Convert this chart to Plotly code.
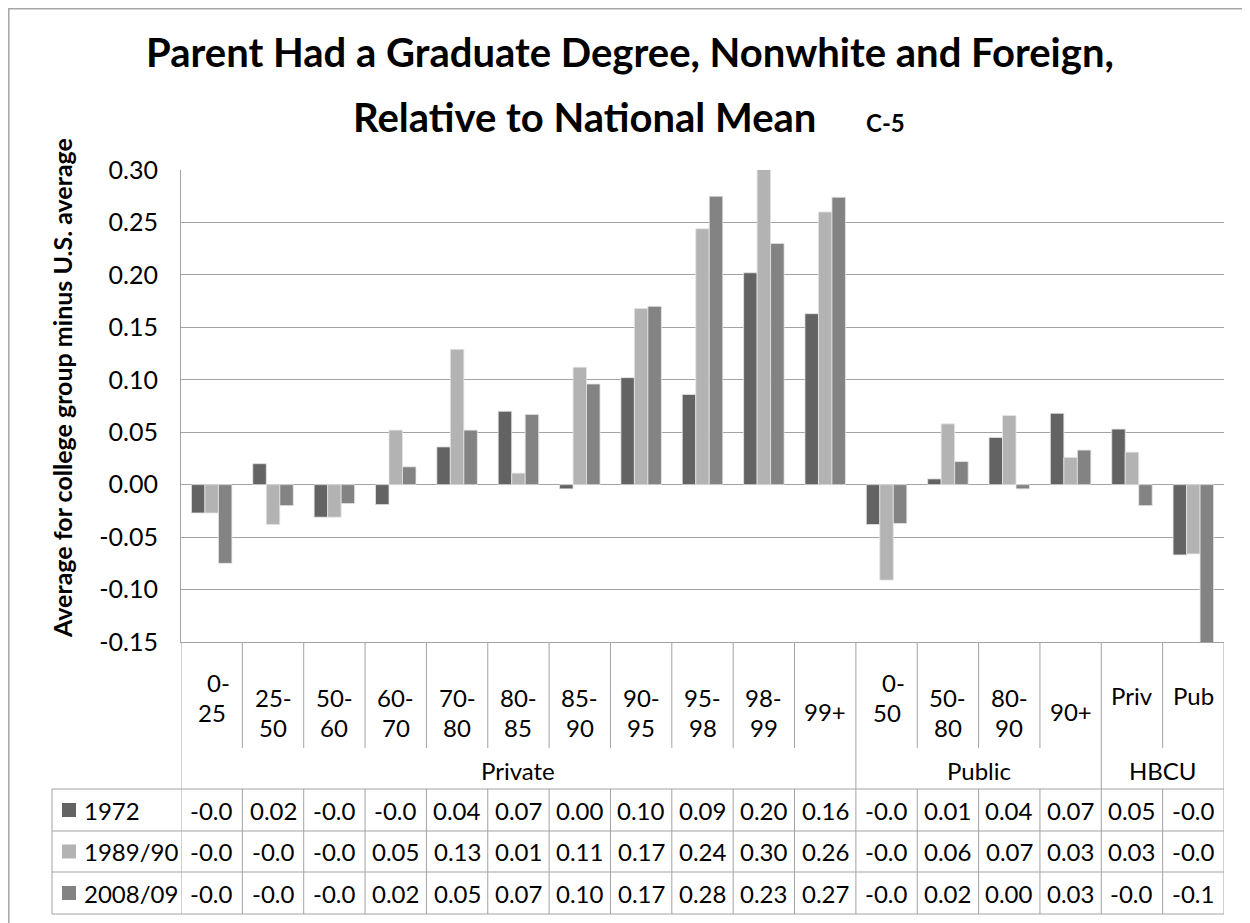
import plotly.graph_objects as go

# ---------------- data ----------------
categories = ["0-25", "25-50", "50-60", "60-70", "70-80", "80-85", "85-90", "90-95",
              "95-98", "98-99", "99+", "0-50", "50-80", "80-90", "90+", "Priv", "Pub"]
group_names = ["Private", "Public", "HBCU"]
group_sizes = [11, 4, 2]
series_names = ["1972", "1989/90", "2008/09"]
v1972 = [-0.027, 0.020, -0.031, -0.019, 0.036, 0.070, -0.004, 0.102, 0.086, 0.202, 0.163,
         -0.038, 0.0055, 0.045, 0.068, 0.053, -0.067]
v1989 = [-0.027, -0.038, -0.031, 0.052, 0.129, 0.011, 0.112, 0.168, 0.244, 0.301, 0.260,
         -0.091, 0.058, 0.066, 0.026, 0.031, -0.066]
v2008 = [-0.075, -0.020, -0.018, 0.017, 0.052, 0.067, 0.096, 0.170, 0.275, 0.230, 0.274,
         -0.037, 0.022, -0.004, 0.033, -0.020, -0.152]
y_ticks = [-0.15, -0.10, -0.05, 0.00, 0.05, 0.10, 0.15, 0.20, 0.25, 0.30]

title_line1 = "Parent Had a Graduate Degree, Nonwhite and Foreign,"
title_line2 = "Relative to National Mean"
title_code = "C-5"
y_title = "Average for college group minus U.S. average"

# ---------------- styles / geometry ----------------
colors = ["#636363", "#b3b3b3", "#838383"]
FONT = "Lato"
GRID = "#a3a3a3"
OFF = 8                      # page body margin
W, H = 1250 - OFF, 923 - OFF
# plot area in page pixels
L, R, T, B = 181, 1224, 170, 642


def px(xp):
    return (xp - L) / (R - L)


def py(yp):
    return (B - yp) / (B - T)


def fmt(v):
    s = f"{v:.2f}"
    if s == "-0.00":
        return "0.00"
    return s[:-1] if s.startswith("-") else s


series = [v1972, v1989, v2008]
fig = go.Figure()
for name, vals, col in zip(series_names, series, colors):
    fig.add_trace(go.Bar(x=categories, y=vals, name=name, marker_color=col,
                         marker_line=dict(color="#e4e4e4", width=0.8)))

shapes = []
annotations = []

# outer chart border
shapes.append(dict(type="rect", xref="paper", yref="paper", x0=px(OFF + 0.8),
                   x1=px(1262), y0=py(935), y1=py(OFF + 0.8),
                   line=dict(color="#a6a6a6", width=1.5), layer="below"))

# table geometry (page pixels)
header_bottom = 748
group_bottom = 789
row_lines = [789, 831, 872, 914]
table_left = 52

group_bounds = [0]
for s in group_sizes:
    group_bounds.append(group_bounds[-1] + s)

n = len(categories)
for k in range(n + 1):
    xk = k - 0.5
    if k in group_bounds:
        segs = [(B, row_lines[-1])]
    else:
        segs = [(B, header_bottom), (group_bottom, row_lines[-1])]
    for a, b in segs:
        shapes.append(dict(type="line", xref="x", yref="paper", x0=xk, x1=xk,
                           y0=py(a), y1=py(b), line=dict(color=GRID, width=1)))
shapes.append(dict(type="line", xref="paper", yref="paper", x0=px(table_left),
                   x1=px(table_left), y0=py(row_lines[0]), y1=py(row_lines[-1]),
                   line=dict(color=GRID, width=1)))
for yl in row_lines:
    shapes.append(dict(type="line", xref="paper", yref="paper", x0=px(table_left),
                       x1=1, y0=py(yl), y1=py(yl), line=dict(color=GRID, width=1)))

TXT = dict(family=FONT, size=24, color="#000000")


def note(x, y, text, font=TXT, xref="paper", **kw):
    d = dict(x=x, xref=xref, y=y, yref="paper", text=text, showarrow=False,
             font=font, xanchor="center", yanchor="middle")
    d.update(kw)
    annotations.append(d)


# category labels
for i, lab in enumerate(categories):
    if "-" in lab:
        a, b = lab.split("-")
        center = 697 if a == "0" else 712.5
        lines = [(a + "-", center - 15, 7 if a == "0" else 0), (b, center + 15, 0)]
    else:
        center = 695 if lab.isalpha() else 711
        lines = [(lab, center, 0)]
    for txt, yc, xs in lines:
        note(lab, py(yc), txt, xref="x", xshift=xs)

# group labels
for gname, g0, g1 in zip(group_names, group_bounds[:-1], group_bounds[1:]):
    note((g0 + g1 - 1) / 2, py(770), gname, xref="x")

# data rows
for r, (name, vals, col) in enumerate(zip(series_names, series, colors)):
    yc = (row_lines[r] + row_lines[r + 1]) / 2
    shapes.append(dict(type="rect", xref="paper", yref="paper", x0=px(62), x1=px(76),
                       y0=py(yc + 7), y1=py(yc - 7), fillcolor=col, line=dict(width=0)))
    note(px(82), py(yc), name, xanchor="left")
    for cat, v in zip(categories, vals):
        note(cat, py(yc), fmt(v), xref="x")

# titles
TITLE = dict(family=FONT, size=40, color="#000000")
note(px(630), py(52), f"<b>{title_line1}</b>", font=TITLE)
note(px(584), py(117), f"<b>{title_line2}</b>", font=TITLE)
note(px(885), py(122), f"<b>{title_code}</b>",
     font=dict(family=FONT, size=24, color="#000000"))
note(px(62), py(388), f"<b>{y_title}</b>", textangle=-90,
     font=dict(family=FONT, size=25, color="#000000"))

fig.update_layout(
    width=W, height=H,
    margin=dict(l=L - OFF, r=W - (R - OFF), t=T - OFF, b=H - (B - OFF), pad=0),
    paper_bgcolor="white", plot_bgcolor="white",
    barmode="group", bargap=0.34, bargroupgap=0,
    showlegend=False,
    shapes=shapes, annotations=annotations,
    font=dict(family=FONT, size=24, color="#000000"),
)
fig.update_xaxes(showticklabels=False, showgrid=False, showline=True,
                 linecolor=GRID, linewidth=1, ticks="", range=[-0.5, n - 0.5],
                 zeroline=False)
fig.update_yaxes(range=[-0.15, 0.30], tickvals=y_ticks,
                 ticktext=[f"{v:.2f}" for v in y_ticks],
                 showgrid=True, gridcolor=GRID, gridwidth=1,
                 zeroline=True, zerolinecolor=GRID, zerolinewidth=1,
                 showline=True, linecolor=GRID, linewidth=1,
                 ticks="", ticklabelstandoff=17,
                 tickfont=dict(family=FONT, size=25, color="#000000"))

fig.write_html("out.html")
